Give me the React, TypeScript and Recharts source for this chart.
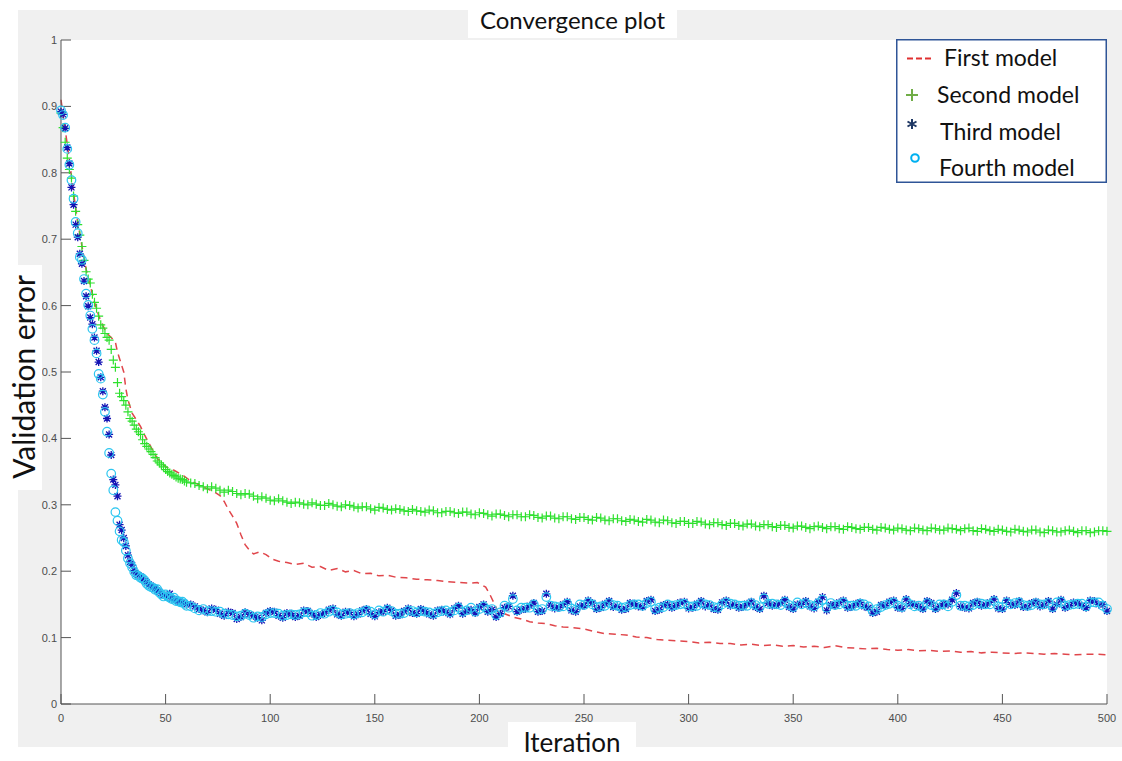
import React from 'react';
import { ComposedChart, Line, Scatter, XAxis, YAxis, CartesianGrid, Legend } from 'recharts';

const xTicks = [0, 50, 100, 150, 200, 250, 300, 350, 400, 450, 500];
const yTicks = [0, 0.1, 0.2, 0.3, 0.4, 0.5, 0.6, 0.7, 0.8, 0.9, 1];
const seriesNames = ['First model', 'Second model', 'Third model', 'Fourth model'];

// iterations at which markers of models 2-4 are drawn (set A)
const scatterIterations = [
  0, 1, 2, 3, 4, 5, 6, 7, 8, 9,
  10, 11, 12, 13, 14, 15, 16, 17, 18, 19,
  20, 21, 22, 23, 24, 25, 26, 27, 28, 29,
  30, 31, 32, 33, 34, 35, 36, 38, 40, 42,
  44, 46, 48, 50, 52, 54, 56, 58, 60,
  64, 68, 72, 76, 80, 84, 88, 92, 96, 100,
  104, 108, 112, 116, 120, 124, 128, 132, 136, 140,
  144, 148, 152, 156, 160, 164, 168, 172, 176, 180,
  184, 188, 192, 196, 200, 204, 208, 212, 216, 220,
  224, 228, 232, 236, 240, 244, 248, 252, 256, 260,
  264, 268, 272, 276, 280, 284, 288, 292, 296, 300,
  304, 308, 312, 316, 320, 324, 328, 332, 336, 340,
  344, 348, 352, 356, 360, 364, 368, 372, 376, 380,
  384, 388, 392, 396, 400, 404, 408, 412, 416, 420,
  424, 428, 432, 436, 440, 444, 448, 452, 456, 460,
  464, 468, 472, 476, 480, 484, 488, 492, 496, 500,
];

// iterations in between (set B)
const midIterations = [
  37, 39, 41, 43, 45, 47, 49, 51, 53, 55, 57, 59,
  62, 66, 70, 74, 78, 82, 86, 90, 94, 98,
  102, 106, 110, 114, 118, 122, 126, 130, 134, 138,
  142, 146, 150, 154, 158, 162, 166, 170, 174, 178,
  182, 186, 190, 194, 198, 202, 206, 210, 214, 218,
  222, 226, 230, 234, 238, 242, 246, 250, 254, 258,
  262, 266, 270, 274, 278, 282, 286, 290, 294, 298,
  302, 306, 310, 314, 318, 322, 326, 330, 334, 338,
  342, 346, 350, 354, 358, 362, 366, 370, 374, 378,
  382, 386, 390, 394, 398, 402, 406, 410, 414, 418,
  422, 426, 430, 434, 438, 442, 446, 450, 454, 458,
  462, 466, 470, 474, 478, 482, 486, 490, 494, 498,
];

const secondModel = [
  0.890, 0.868, 0.846, 0.822, 0.805, 0.792, 0.765, 0.742, 0.722, 0.706,
  0.689, 0.668, 0.651, 0.640, 0.634, 0.617, 0.605, 0.596, 0.584, 0.571,
  0.566, 0.558, 0.552, 0.548, 0.534, 0.518, 0.507, 0.484, 0.468, 0.463,
  0.457, 0.450, 0.440, 0.430, 0.426, 0.420, 0.414, 0.406, 0.392, 0.384,
  0.376, 0.366, 0.360, 0.353, 0.348, 0.344, 0.340, 0.338, 0.334,
  0.332, 0.327, 0.327, 0.322, 0.322, 0.317, 0.317, 0.313, 0.312, 0.307,
  0.309, 0.304, 0.304, 0.301, 0.303, 0.299, 0.302, 0.298, 0.300, 0.297,
  0.297, 0.294, 0.296, 0.293, 0.294, 0.291, 0.293, 0.290, 0.292, 0.288,
  0.290, 0.288, 0.289, 0.286, 0.288, 0.285, 0.286, 0.284, 0.285, 0.282,
  0.285, 0.281, 0.283, 0.280, 0.282, 0.279, 0.281, 0.278, 0.281, 0.277,
  0.279, 0.276, 0.278, 0.275, 0.278, 0.274, 0.277, 0.273, 0.275, 0.272,
  0.275, 0.271, 0.273, 0.270, 0.272, 0.269, 0.271, 0.268, 0.270, 0.267,
  0.269, 0.266, 0.268, 0.266, 0.267, 0.266, 0.267, 0.264, 0.267, 0.264,
  0.266, 0.263, 0.266, 0.263, 0.265, 0.262, 0.265, 0.262, 0.265, 0.262,
  0.265, 0.263, 0.264, 0.261, 0.264, 0.261, 0.263, 0.260, 0.263, 0.260,
  0.262, 0.259, 0.262, 0.259, 0.261, 0.260, 0.261, 0.258, 0.261, 0.260,
];

const secondModelMid = [
  0.410, 0.398, 0.388, 0.380, 0.371, 0.363, 0.357, 0.350, 0.346, 0.342, 0.339, 0.336,
  0.333, 0.329, 0.324, 0.325, 0.319, 0.320, 0.315, 0.316, 0.309, 0.310,
  0.306, 0.306, 0.302, 0.303, 0.300, 0.301, 0.299, 0.300, 0.297, 0.299,
  0.295, 0.297, 0.292, 0.295, 0.292, 0.293, 0.290, 0.291, 0.289, 0.291,
  0.288, 0.290, 0.287, 0.289, 0.285, 0.287, 0.283, 0.286, 0.282, 0.285,
  0.282, 0.284, 0.280, 0.283, 0.279, 0.282, 0.278, 0.281, 0.277, 0.280,
  0.276, 0.279, 0.275, 0.277, 0.274, 0.277, 0.273, 0.276, 0.272, 0.275,
  0.272, 0.274, 0.270, 0.273, 0.269, 0.272, 0.268, 0.271, 0.267, 0.270,
  0.266, 0.269, 0.265, 0.268, 0.264, 0.268, 0.264, 0.267, 0.263, 0.266,
  0.263, 0.266, 0.262, 0.265, 0.262, 0.264, 0.261, 0.264, 0.261, 0.264,
  0.262, 0.264, 0.261, 0.265, 0.260, 0.263, 0.260, 0.262, 0.259, 0.262,
  0.259, 0.262, 0.258, 0.261, 0.259, 0.262, 0.258, 0.261, 0.259, 0.261,
];

const thirdModel = [
  0.892, 0.888, 0.867, 0.838, 0.814, 0.778, 0.752, 0.722, 0.703, 0.678,
  0.663, 0.637, 0.614, 0.599, 0.582, 0.572, 0.552, 0.532, 0.515, 0.492,
  0.471, 0.447, 0.430, 0.406, 0.375, 0.338, 0.330, 0.313, 0.270, 0.262,
  0.250, 0.238, 0.224, 0.214, 0.209, 0.201, 0.196, 0.192, 0.185, 0.180,
  0.176, 0.171, 0.167, 0.163, 0.166, 0.158, 0.156, 0.153, 0.150,
  0.147, 0.141, 0.144, 0.136, 0.139, 0.128, 0.138, 0.133, 0.126, 0.140,
  0.133, 0.137, 0.131, 0.141, 0.136, 0.134, 0.142, 0.135, 0.139, 0.132,
  0.141, 0.136, 0.138, 0.145, 0.133, 0.140, 0.137, 0.143, 0.135, 0.141,
  0.138, 0.144, 0.136, 0.142, 0.146, 0.139, 0.131, 0.145, 0.163, 0.142,
  0.148, 0.139, 0.166, 0.144, 0.150, 0.141, 0.147, 0.156, 0.143, 0.151,
  0.146, 0.142, 0.152, 0.147, 0.155, 0.140, 0.149, 0.145, 0.153, 0.144,
  0.151, 0.147, 0.143, 0.153, 0.148, 0.145, 0.151, 0.146, 0.163, 0.148,
  0.152, 0.146, 0.150, 0.155, 0.144, 0.161, 0.149, 0.153, 0.145, 0.151,
  0.147, 0.137, 0.149, 0.154, 0.145, 0.158, 0.150, 0.143, 0.152, 0.147,
  0.150, 0.167, 0.145, 0.152, 0.148, 0.153, 0.144, 0.156, 0.149, 0.146,
  0.152, 0.147, 0.155, 0.150, 0.145, 0.153, 0.148, 0.156, 0.150, 0.140,
];

const thirdModelMid = [
  0.194, 0.188, 0.183, 0.178, 0.174, 0.169, 0.164, 0.161, 0.159, 0.157, 0.154, 0.152,
  0.150, 0.143, 0.138, 0.142, 0.133, 0.137, 0.131, 0.135, 0.130, 0.137,
  0.139, 0.130, 0.136, 0.133, 0.140, 0.131, 0.137, 0.144, 0.133, 0.138,
  0.135, 0.143, 0.132, 0.139, 0.141, 0.134, 0.144, 0.136, 0.139, 0.133,
  0.142, 0.135, 0.148, 0.140, 0.137, 0.150, 0.142, 0.136, 0.147, 0.139,
  0.143, 0.152, 0.140, 0.149, 0.145, 0.154, 0.139, 0.148, 0.152, 0.145,
  0.155, 0.147, 0.143, 0.151, 0.146, 0.157, 0.142, 0.150, 0.148, 0.154,
  0.145, 0.155, 0.149, 0.142, 0.156, 0.150, 0.146, 0.154, 0.143, 0.152,
  0.149, 0.157, 0.143, 0.150, 0.147, 0.154, 0.141, 0.148, 0.156, 0.146,
  0.153, 0.145, 0.139, 0.148, 0.156, 0.144, 0.151, 0.147, 0.155, 0.143,
  0.151, 0.157, 0.147, 0.144, 0.154, 0.149, 0.158, 0.143, 0.150, 0.155,
  0.146, 0.154, 0.149, 0.143, 0.157, 0.148, 0.152, 0.145, 0.155, 0.150,
];

const fourthModel = [
  0.894, 0.887, 0.868, 0.836, 0.812, 0.789, 0.761, 0.726, 0.709, 0.673,
  0.669, 0.640, 0.618, 0.601, 0.585, 0.565, 0.548, 0.528, 0.497, 0.490,
  0.466, 0.440, 0.410, 0.378, 0.347, 0.322, 0.289, 0.276, 0.260, 0.247,
  0.244, 0.231, 0.219, 0.212, 0.206, 0.199, 0.194, 0.190, 0.186, 0.178,
  0.175, 0.173, 0.165, 0.165, 0.160, 0.160, 0.155, 0.154, 0.148,
  0.144, 0.143, 0.140, 0.139, 0.135, 0.132, 0.136, 0.130, 0.131, 0.137,
  0.136, 0.134, 0.134, 0.138, 0.133, 0.137, 0.139, 0.138, 0.136, 0.135,
  0.138, 0.139, 0.141, 0.142, 0.136, 0.137, 0.140, 0.140, 0.138, 0.138,
  0.141, 0.141, 0.139, 0.145, 0.143, 0.142, 0.134, 0.148, 0.158, 0.145,
  0.145, 0.142, 0.161, 0.147, 0.147, 0.144, 0.150, 0.153, 0.146, 0.148,
  0.149, 0.145, 0.149, 0.150, 0.152, 0.143, 0.146, 0.148, 0.150, 0.147,
  0.148, 0.150, 0.146, 0.150, 0.151, 0.148, 0.148, 0.149, 0.159, 0.151,
  0.149, 0.149, 0.153, 0.152, 0.147, 0.157, 0.152, 0.150, 0.148, 0.148,
  0.150, 0.140, 0.146, 0.151, 0.148, 0.155, 0.147, 0.146, 0.149, 0.150,
  0.147, 0.164, 0.148, 0.149, 0.151, 0.150, 0.147, 0.153, 0.152, 0.149,
  0.149, 0.150, 0.152, 0.153, 0.148, 0.150, 0.151, 0.153, 0.153, 0.143,
];

const fourthModelMid = [
  0.193, 0.189, 0.181, 0.176, 0.172, 0.168, 0.162, 0.162, 0.158, 0.155, 0.153, 0.151,
  0.147, 0.141, 0.140, 0.139, 0.136, 0.134, 0.133, 0.134, 0.132, 0.135,
  0.137, 0.133, 0.135, 0.135, 0.138, 0.134, 0.136, 0.141, 0.135, 0.137,
  0.137, 0.141, 0.135, 0.139, 0.140, 0.136, 0.141, 0.138, 0.139, 0.136,
  0.140, 0.138, 0.145, 0.141, 0.139, 0.147, 0.143, 0.138, 0.145, 0.141,
  0.145, 0.150, 0.143, 0.148, 0.146, 0.151, 0.142, 0.149, 0.150, 0.147,
  0.152, 0.148, 0.146, 0.150, 0.148, 0.154, 0.145, 0.150, 0.149, 0.151,
  0.147, 0.152, 0.149, 0.145, 0.153, 0.150, 0.148, 0.152, 0.146, 0.151,
  0.150, 0.154, 0.146, 0.150, 0.149, 0.152, 0.145, 0.149, 0.153, 0.148,
  0.151, 0.147, 0.143, 0.149, 0.153, 0.146, 0.150, 0.148, 0.152, 0.146,
  0.150, 0.154, 0.148, 0.147, 0.152, 0.150, 0.155, 0.146, 0.150, 0.153,
  0.148, 0.152, 0.150, 0.146, 0.154, 0.149, 0.151, 0.147, 0.153, 0.148,
];

// first model: dashed line
const firstIterations = [
  0, 2, 4, 6, 8, 10, 12, 14, 16, 18,
  20, 22, 24, 26, 27, 28, 30, 31, 32, 34,
  36, 38, 40, 43, 46, 50, 54, 58, 62, 66,
  70, 74, 76, 78, 80, 82, 84, 86, 88, 90,
  92, 95, 98, 101, 104, 108, 112, 116, 120, 124,
  128, 132, 136, 140, 144, 148, 152, 156, 160, 165,
  170, 175, 180, 185, 190, 195, 199, 203, 205, 207,
  209, 212, 216, 220, 224, 228, 232, 236, 240, 245,
  250, 255, 260, 265, 270, 275, 280, 285, 290, 295,
  300, 305, 310, 315, 320, 325, 330, 335, 340, 345,
  350, 355, 360, 365, 370, 375, 380, 385, 390, 395,
  400, 405, 410, 415, 420, 425, 430, 435, 440, 445,
  450, 455, 460, 465, 470, 475, 480, 485, 490, 495,
  500,
];

const firstModel = [
  0.910, 0.865, 0.820, 0.770, 0.725, 0.690, 0.655, 0.630, 0.605, 0.585,
  0.570, 0.558, 0.552, 0.545, 0.530, 0.520, 0.500, 0.475, 0.458, 0.438,
  0.428, 0.418, 0.405, 0.387, 0.370, 0.357, 0.352, 0.345, 0.336, 0.330,
  0.324, 0.318, 0.314, 0.305, 0.293, 0.283, 0.272, 0.255, 0.240, 0.232,
  0.226, 0.229, 0.225, 0.218, 0.215, 0.213, 0.210, 0.212, 0.206, 0.207,
  0.201, 0.204, 0.199, 0.201, 0.196, 0.197, 0.193, 0.194, 0.191, 0.190,
  0.188, 0.187, 0.186, 0.184, 0.183, 0.182, 0.183, 0.176, 0.165, 0.152,
  0.138, 0.136, 0.131, 0.128, 0.124, 0.122, 0.121, 0.118, 0.116, 0.115,
  0.113, 0.109, 0.106, 0.105, 0.104, 0.101, 0.100, 0.097, 0.096, 0.095,
  0.094, 0.092, 0.093, 0.091, 0.091, 0.089, 0.090, 0.088, 0.089, 0.087,
  0.088, 0.086, 0.087, 0.085, 0.088, 0.085, 0.084, 0.083, 0.084, 0.082,
  0.081, 0.082, 0.080, 0.081, 0.079, 0.080, 0.078, 0.079, 0.077, 0.078,
  0.077, 0.076, 0.077, 0.076, 0.075, 0.076, 0.075, 0.074, 0.075, 0.075,
  0.074,
];

const toPoints = (xs: number[], ys: number[]) => xs.map((x, i) => ({ x, y: ys[i] }));
const firstData = toPoints(firstIterations, firstModel);
const secondData = toPoints(scatterIterations, secondModel).concat(toPoints(midIterations, secondModelMid));
const thirdData = toPoints(scatterIterations, thirdModel).concat(toPoints(midIterations, thirdModelMid));
const fourthData = toPoints(scatterIterations, fourthModel).concat(toPoints(midIterations, fourthModelMid));

const GREEN = '#2ee02e';
const BLUE = '#1414b4';
const CYAN = '#2cc6f0';
const RED = '#e0464b';

const PlusShape = (props: any) => {
  const { cx, cy } = props;
  if (cx == null || cy == null) return <g />;
  return (
    <path d={`M${cx - 4.5},${cy}H${cx + 4.5}M${cx},${cy - 4.5}V${cy + 4.5}`} stroke={GREEN} strokeWidth={1.2} fill="none" />
  );
};

const StarShape = (props: any) => {
  const { cx, cy } = props;
  if (cx == null || cy == null) return <g />;
  const d = `M${cx - 4},${cy}H${cx + 4}M${cx},${cy - 4}V${cy + 4}M${cx - 3},${cy - 3}L${cx + 3},${cy + 3}M${cx - 3},${cy + 3}L${cx + 3},${cy - 3}`;
  return <path d={d} stroke={BLUE} strokeWidth={1.3} fill="none" />;
};

const CircleShape = (props: any) => {
  const { cx, cy } = props;
  if (cx == null || cy == null) return <g />;
  return <circle cx={cx} cy={cy} r={4.3} stroke={CYAN} strokeWidth={1.2} fill="none" />;
};

const EmptyTick = () => <g />;

const legendFont = 'Lato, "Open Sans", sans-serif';

const renderLegend = () => (
  <svg width={211} height={144} style={{ display: 'block' }}>
    <rect x={0.75} y={0.75} width={209.5} height={142.5} fill="#ffffff" stroke="#2f5597" strokeWidth={1.5} />
    <line x1={11} y1={19.5} x2={35} y2={19.5} stroke="#e03030" strokeWidth={2} strokeDasharray="6 3" />
    <text x={48} y={27} fontFamily={legendFont} fontSize={23} fill="#111">{seriesNames[0]}</text>
    <path d="M10,56H22M16,50V62" stroke="#70ad47" strokeWidth={2} fill="none" />
    <text x={41} y={63.7} fontFamily={legendFont} fontSize={23} fill="#111">{seriesNames[1]}</text>
    <path d="M16,80V90M11.5,82.5L20.5,87.5M11.5,87.5L20.5,82.5" stroke="#1f3864" strokeWidth={2} fill="none" />
    <text x={44} y={100.7} fontFamily={legendFont} fontSize={23} fill="#111">{seriesNames[2]}</text>
    <circle cx={19} cy={119} r={3.8} stroke="#00b0f0" strokeWidth={2} fill="none" />
    <text x={43} y={136.7} fontFamily={legendFont} fontSize={23} fill="#111">{seriesNames[3]}</text>
  </svg>
);

const tickStyle = { fill: '#4d4d4d', fontSize: 11, fontFamily: '"Liberation Sans", Arial, sans-serif' };
const axisStroke = { stroke: '#555555', strokeWidth: 1 };
const labelFont = 'Lato, "Open Sans", sans-serif';

export default function App() {
  return (
    <div style={{ position: 'absolute', left: 0, top: 0, width: 1122, height: 761, background: '#ffffff', overflow: 'hidden' }}>
      <div style={{ position: 'absolute', left: 18, top: 10, width: 1104, height: 737, background: '#f0f0f0' }} />
      <div style={{ position: 'absolute', left: 0, top: 0 }}>
        <ComposedChart width={1122} height={761} margin={{ top: 40, right: 15, bottom: 27, left: 21 }}>
          <CartesianGrid horizontal={false} vertical={false} fill="#ffffff" />
          <XAxis
            dataKey="x"
            type="number"
            domain={[0, 500]}
            ticks={xTicks}
            interval={0}
            height={30}
            tickSize={-10}
            tickMargin={20}
            tick={tickStyle}
            axisLine={axisStroke}
            tickLine={axisStroke}
          />
          <XAxis
            xAxisId="top"
            orientation="top"
            dataKey="x"
            type="number"
            domain={[0, 500]}
            ticks={xTicks}
            interval={0}
            height={0}
            tickSize={-10}
            tick={EmptyTick}
            axisLine={axisStroke}
            tickLine={axisStroke}
          />
          <YAxis
            dataKey="y"
            type="number"
            domain={[0, 1]}
            ticks={yTicks}
            interval={0}
            width={40}
            tickSize={-10}
            tickMargin={14}
            tick={tickStyle}
            axisLine={axisStroke}
            tickLine={axisStroke}
          />
          <YAxis
            yAxisId="right"
            orientation="right"
            dataKey="y"
            type="number"
            domain={[0, 1]}
            ticks={yTicks}
            interval={0}
            width={0}
            tickSize={-10}
            tick={EmptyTick}
            axisLine={axisStroke}
            tickLine={axisStroke}
          />
          <Line
            data={firstData}
            dataKey="y"
            name={seriesNames[0]}
            type="linear"
            stroke={RED}
            strokeWidth={1.5}
            strokeDasharray="7 5"
            dot={false}
            activeDot={false}
            isAnimationActive={false}
          />
          <Scatter data={secondData} dataKey="y" name={seriesNames[1]} shape={PlusShape} isAnimationActive={false} />
          <Scatter data={thirdData} dataKey="y" name={seriesNames[2]} shape={StarShape} isAnimationActive={false} />
          <Scatter data={fourthData} dataKey="y" name={seriesNames[3]} shape={CircleShape} isAnimationActive={false} />
          <Legend
            layout="vertical"
            align="center"
            verticalAlign="middle"
            content={renderLegend}
            wrapperStyle={{ left: 896, top: 39, width: 211, height: 144 }}
          />
        </ComposedChart>
      </div>
      <div style={{ position: 'absolute', left: 468, top: 0, width: 209, height: 38, background: '#ffffff', display: 'flex', alignItems: 'center', justifyContent: 'center', fontFamily: labelFont, fontSize: 24, color: '#111' }}>
        Convergence plot
      </div>
      <div style={{ position: 'absolute', left: 508, top: 722, width: 128, height: 39, background: '#ffffff', display: 'flex', alignItems: 'center', justifyContent: 'center', fontFamily: labelFont, fontSize: 26, color: '#111' }}>
        Iteration
      </div>
      <div style={{ position: 'absolute', left: 0, top: 265, width: 42, height: 225, background: '#ffffff' }} />
      <div style={{ position: 'absolute', left: 23, top: 377, transform: 'translate(-50%, -50%) rotate(-90deg)', whiteSpace: 'nowrap', fontFamily: labelFont, fontSize: 30, color: '#111', lineHeight: 1 }}>
        Validation error
      </div>
    </div>
  );
}
